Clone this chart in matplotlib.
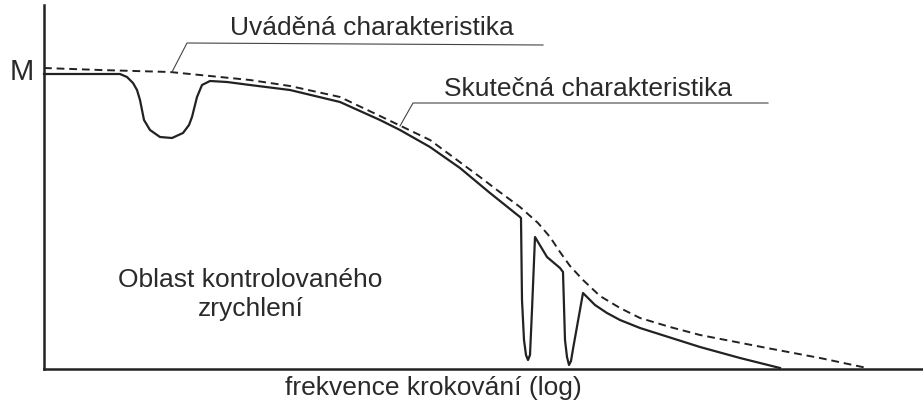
import matplotlib
matplotlib.use("Agg")
import matplotlib.pyplot as plt

plt.rcParams['font.family'] = ['Liberation Sans', 'DejaVu Sans']

# Schematic coordinates: x = frequency position (log), y = torque M (arbitrary units)
# Declared (catalogue) characteristic - dashed
rated_x = [0, 56, 126, 206, 246, 296, 336, 386, 436, 453, 476, 494, 506, 516, 526, 539, 556, 576, 596, 626, 656, 723, 776, 823]
rated_y = [301, 299, 297, 289, 283, 272, 253, 229, 192, 179, 162, 146, 132, 117, 103, 89, 73, 61, 51, 42, 34, 21, 11, 1]

# Real characteristic - solid, with resonance dips
real_x = [0, 76, 83, 89, 93, 96, 98, 100, 106, 116, 128, 139, 145, 148, 151, 153, 158, 166, 183, 206, 246, 296,
          336, 356, 386, 416, 446, 476, 477, 478, 480, 482, 484, 486, 488, 491, 503, 516, 519, 521, 523, 525, 527,
          529, 539, 551, 563, 576, 596, 656, 696, 736]
real_y = [295, 295, 292, 286, 279, 269, 259, 249, 239, 232, 231, 236, 244, 252, 264, 272, 284, 288, 287, 284, 279, 267,
          249, 239, 222, 201, 176, 152, 151, 69, 29, 14, 9, 14, 59, 132, 112, 101, 97, 29, 12, 4, 8,
          20, 76, 64, 56, 49, 41, 22, 11, 1]

# Leader lines for the labels
lead1_x = [128, 143, 499]
lead1_y = [297, 326, 324]
lead2_x = [356, 369, 724]
lead2_y = [243, 266, 266]

labels = ["Uváděná charakteristika", "Skutečná charakteristika", "Oblast kontrolovaného", "zrychlení"]
x_label = "frekvence krokování (log)"
y_label = "M"

W, H = 923, 403
fig = plt.figure(figsize=(W / 100, H / 100), dpi=100)
left, bottom, top = 44, 369, 5
ax = fig.add_axes([left / W, (H - bottom) / H, (W - left) / W, (bottom - top) / H])
ax.set_xlim(0, W - left)
ax.set_ylim(0, bottom - top)
for s in ['top', 'right']:
    ax.spines[s].set_visible(False)
for s in ['left', 'bottom']:
    ax.spines[s].set_linewidth(1.8)
    ax.spines[s].set_color('#222222')
ax.set_xticks([])
ax.set_yticks([])

ink = '#222222'
ax.plot(rated_x, rated_y, color=ink, lw=1.4, linestyle=(0, (4, 2.5)), clip_on=False)
ax.plot(real_x, real_y, color=ink, lw=1.6, solid_joinstyle='round', clip_on=False)
ax.plot(lead1_x, lead1_y, color='#444444', lw=0.8, clip_on=False)
ax.plot(lead2_x, lead2_y, color='#444444', lw=0.8, clip_on=False)

txt = '#2a2a2a'
fs = 19
ax.text(328, 341, labels[0], ha='center', va='center', fontsize=fs, color=txt, clip_on=False)
ax.text(544, 280, labels[1], ha='center', va='center', fontsize=fs, color=txt, clip_on=False)
ax.text(74, 89, labels[2], ha='left', va='center', fontsize=fs, color=txt, clip_on=False)
ax.text(154, 60, labels[3], ha='left', va='center', fontsize=fs, color=txt, clip_on=False)
ax.text(241, -19, x_label, ha='left', va='center', fontsize=fs, color=txt, clip_on=False)
ax.text(-22, 297, y_label, ha='center', va='center', fontsize=21, color=txt, clip_on=False)

fig.savefig('out.png', dpi=100, facecolor='white')
